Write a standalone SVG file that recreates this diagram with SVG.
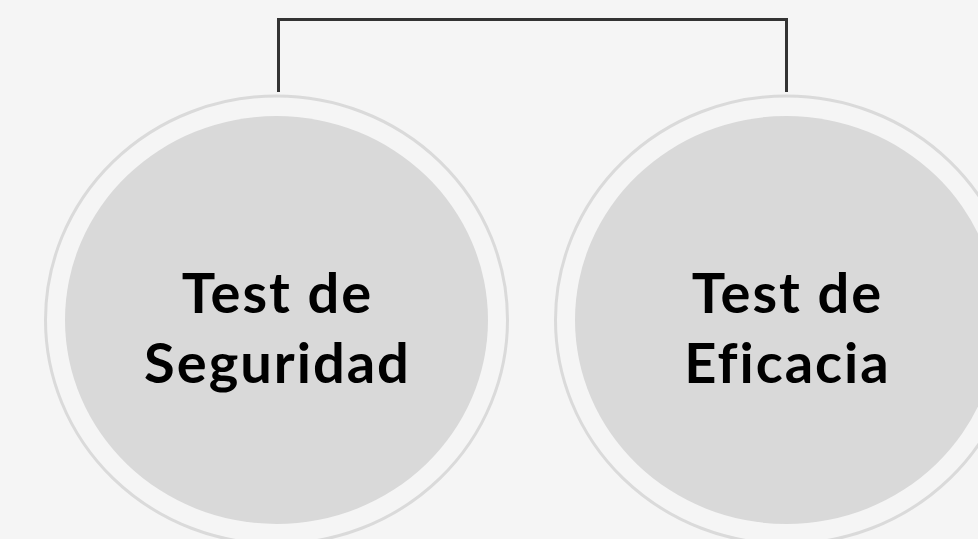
<svg xmlns="http://www.w3.org/2000/svg" width="978" height="539" viewBox="0 0 978 539">
<style>
.ring{fill:none;stroke:#dadada;stroke-width:3}
.disk{fill:#d9d9d9}
.lbl{font-family:Lato,"Open Sans",sans-serif;font-weight:bold;font-size:56px;fill:#000;text-anchor:middle;letter-spacing:2px}
.conn{fill:none;stroke:#333333;stroke-width:3}
</style>
<rect width="978" height="539" fill="#f5f5f5"/>
<g id="connectors">
<path class="conn" d="M278.5,92 V19.5 H786.5 V92"/>
</g>
<g id="node-seguridad">
<ellipse class="ring" cx="276.5" cy="320" rx="231" ry="224"/>
<ellipse class="disk" cx="276.5" cy="320" rx="211.5" ry="204"/>
<text class="lbl" x="277.5" y="313">Test de</text>
<text class="lbl" x="277.5" y="383">Seguridad</text>
</g>
<g id="node-eficacia">
<ellipse class="ring" cx="786.5" cy="320" rx="231" ry="224"/>
<ellipse class="disk" cx="786.5" cy="320" rx="211.5" ry="204"/>
<text class="lbl" x="787.5" y="313">Test de</text>
<text class="lbl" x="787.5" y="383">Eficacia</text>
</g>
</svg>
